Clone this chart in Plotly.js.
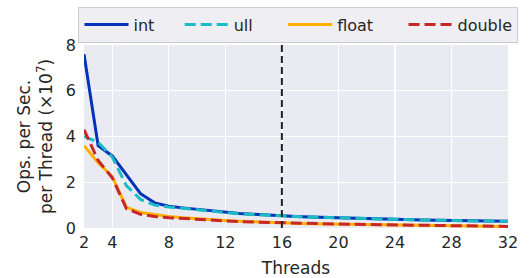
<!DOCTYPE html>
<html><head><meta charset="utf-8">
<script src="https://cdn.plot.ly/plotly-3.0.1.min.js"></script>
<style>html,body{margin:0;padding:0;background:#fff}#chart{width:529px;height:278px}</style>
</head><body><div id="chart"></div>
<script>
const threads = [2,3,4,5,6,7,8,9,10,11,12,13,14,15,16,17,18,19,20,21,22,23,24,25,26,27,28,29,30,31,32];
const intOps    = [7.6,3.6,3.15,2.35,1.5,1.1,0.95,0.88,0.82,0.75,0.68,0.63,0.6,0.56,0.53,0.5,0.48,0.46,0.44,0.42,0.4,0.39,0.37,0.36,0.35,0.34,0.33,0.32,0.31,0.3,0.29];
const ullOps    = [4.0,3.75,3.1,1.85,1.25,1.0,0.92,0.86,0.8,0.74,0.67,0.62,0.59,0.55,0.52,0.5,0.48,0.46,0.44,0.42,0.4,0.39,0.37,0.36,0.35,0.34,0.33,0.32,0.31,0.3,0.29];
const floatOps  = [3.6,2.85,2.25,0.9,0.68,0.58,0.5,0.45,0.4,0.36,0.33,0.3,0.27,0.25,0.23,0.21,0.19,0.18,0.17,0.16,0.15,0.14,0.13,0.12,0.11,0.1,0.1,0.09,0.08,0.08,0.07];
const doubleOps = [4.3,2.95,2.2,0.85,0.6,0.5,0.45,0.41,0.37,0.34,0.31,0.28,0.26,0.24,0.22,0.2,0.19,0.18,0.17,0.16,0.15,0.14,0.13,0.12,0.11,0.1,0.1,0.09,0.08,0.08,0.07];
const seriesNames = ["int","ull","float","double"];
const xTicks = [2,4,8,12,16,20,24,28,32];
const yTicks = [0,2,4,6,8];
const markerThread = 16;

const font = "DejaVu Sans, sans-serif";
const txt = "#262626";
const pad4 = "\u00A0\u00A0\u00A0\u00A0";
const pad5 = "\u00A0\u00A0\u00A0\u00A0\u00A0";
const mk = (y, name, color, dash) => ({
  x: threads, y: y, name: name, type: "scatter", mode: "lines",
  line: {color: color, width: 3, dash: dash}
});
const data = [
  mk(intOps, seriesNames[0] + pad4, "#0033B8", "solid"),
  mk(ullOps, seriesNames[1] + pad5, "#1BBCC4", "11px,5px"),
  mk(floatOps, seriesNames[2] + pad5, "#FFB000", "solid"),
  mk(doubleOps, seriesNames[3], "#C62828", "11px,5px")
];
const layout = {
  width: 529, height: 278,
  margin: {l: 84, r: 21, t: 45, b: 50, autoexpand: false},
  paper_bgcolor: "#ffffff", plot_bgcolor: "#EAEAF2",
  font: {family: font, color: txt, size: 16},
  showlegend: true,
  legend: {
    orientation: "h", x: -0.013, xanchor: "left", y: 1.21, yanchor: "top",
    bgcolor: "#EEEEF3", bordercolor: "#CCCCCC", borderwidth: 1,
    font: {family: font, size: 16, color: txt},
    itemwidth: 44
  },
  xaxis: {
    range: [2, 32], tickvals: xTicks, ticktext: xTicks.map(String),
    showgrid: true, gridcolor: "#ffffff", gridwidth: 1.3, zeroline: false,
    showline: false, ticks: "", ticklabelstandoff: 3, automargin: false,
    tickfont: {family: font, size: 16, color: txt},
    title: {text: "Threads", font: {family: font, size: 17, color: txt}, standoff: 12}
  },
  yaxis: {
    range: [0, 8], tickvals: yTicks, ticktext: yTicks.map(String),
    showgrid: true, gridcolor: "#ffffff", gridwidth: 1.3, zeroline: false,
    showline: false, ticks: "", ticklabelstandoff: 7, automargin: false,
    tickfont: {family: font, size: 16, color: txt},
    title: {text: "Ops. per Sec.<br>per Thread (×10<sup>7</sup>)", font: {family: font, size: 17, color: txt}, standoff: 8}
  },
  shapes: [{
    type: "line", xref: "x", yref: "paper", x0: markerThread, x1: markerThread, y0: 0, y1: 1,
    line: {color: "#222222", width: 2, dash: "7px,4px"}
  }]
};
Plotly.newPlot("chart", data, layout, {staticPlot: true, displayModeBar: false});
</script></body></html>
